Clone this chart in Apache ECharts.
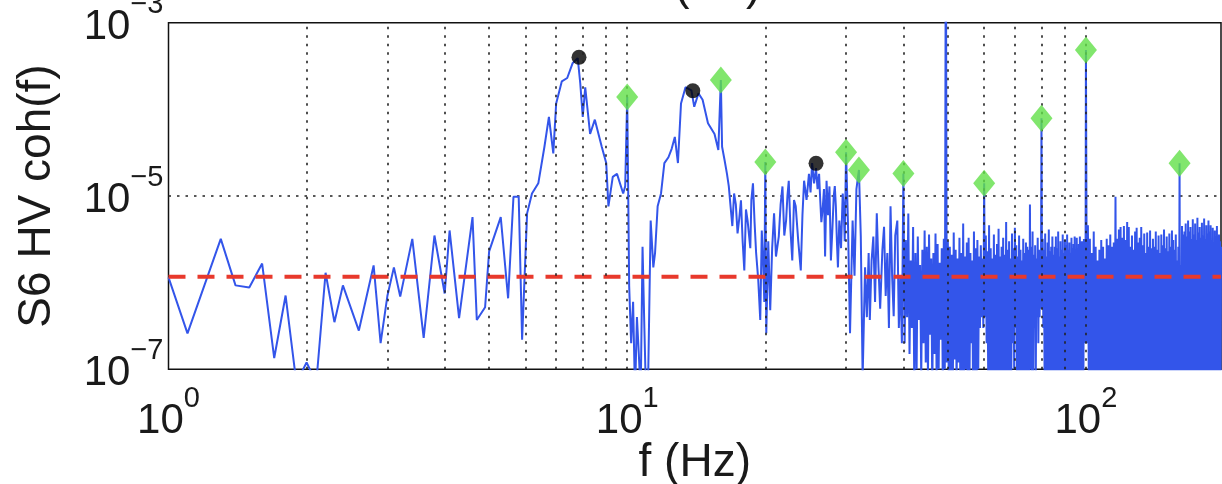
<!DOCTYPE html>
<html><head><meta charset="utf-8">
<script src="https://cdn.jsdelivr.net/npm/echarts@6/dist/echarts.min.js"></script>
<style>html,body{margin:0;padding:0;background:#fff}#c{width:1222px;height:484px}</style>
</head><body><div id="c"></div>
<script>
// ---------- data ----------
// coherence below 40 Hz: [frequency Hz, coherence]
const lowBand = [
 [1.0,1.15e-6],[1.1,2.6e-7],[1.3,3.2e-6],[1.4,9.3e-7],[1.5,8.8e-7],[1.6,1.66e-6],[1.7,1.35e-7],[1.8,7.1e-7],[1.9,7e-8],[2.0,1.2e-7],
 [2.1,7e-8],[2.2,1.3e-6],[2.3,3.5e-7],[2.4,9.3e-7],[2.6,2.8e-7],[2.8,1.58e-6],[2.9,2.0e-7],[3.0,7.0e-7],[3.1,1.5e-6],[3.2,6.9e-7],
 [3.4,3.2e-6],[3.6,2.3e-7],[3.8,3.5e-6],[4.0,7.5e-7],[4.1,4.0e-6],[4.3,3.9e-7],[4.6,5.7e-6],[4.7,3.7e-7],[4.9,5.2e-7],[5.0,2.3e-6],
 [5.3,5.7e-6],[5.5,6.6e-7],[5.65,9.8e-6],[5.8,9.8e-6],[5.9,2.2e-7],[6.05,6.3e-6],[6.2,1.07e-5],[6.4,1.4e-5],[6.6,3.7e-5],[6.75,8.2e-5],
 [6.9,3.1e-5],[7.0,1.17e-4],[7.2,2.1e-4],[7.4,2.3e-4],[7.6,3.4e-4],[7.8,3.9e-4],[7.9,2.0e-4],[8.0,8.2e-5],[8.1,1.8e-4],[8.3,5.2e-5],
 [8.5,7.6e-5],[8.8,3.7e-5],[9.0,2.4e-5],[9.1,7.6e-6],[9.3,1.66e-5],[9.5,1.8e-5],[9.8,1.07e-5],[9.9,1.3e-5],[10.0,1.39e-4],[10.1,9e-7],
 [10.2,2e-7],[10.3,6e-7],[10.4,5e-8],[10.5,4e-7],[10.6,1.5e-7],[10.7,5e-8],[10.8,2.6e-6],[10.9,3e-7],[11.0,4e-8],[11.1,6e-8],
 [11.25,5.2e-6],[11.4,1.5e-6],[11.5,2.2e-6],[11.65,7.6e-6],[11.85,1.07e-5],[12.05,2.4e-5],[12.3,2.8e-5],[12.5,3.5e-5],[12.7,4.8e-5],[12.9,2.4e-5],
 [13.1,1.17e-4],[13.4,1.8e-4],[13.8,1.66e-4],[14.0,1.07e-4],[14.3,1.53e-4],[14.6,1.29e-4],[15.0,6.9e-5],[15.5,5.2e-5],[15.8,3.4e-5],[16.0,2.18e-4],
 [16.1,3.7e-5],[16.3,2.6e-5],[16.5,1.8e-5],[16.65,1.3e-5],[16.8,7.6e-6],[16.95,4.5e-6],[17.1,1.07e-5],[17.25,8e-6],[17.4,3.7e-6],[17.55,5.5e-6],
 [17.7,8.9e-6],[17.85,3e-6],[18.0,1.38e-6],[18.15,7e-6],[18.3,5.2e-6],[18.55,2.5e-6],[18.65,9e-6],[18.8,1.4e-5],[18.95,5e-6],[19.1,2.2e-6],
 [19.3,1.1e-6],[19.5,3.7e-7],[19.65,4e-6],[19.8,1.5e-6],[19.9,6e-7],[20.0,2.47e-5],[20.1,2.6e-7],[20.3,3e-6],[20.5,4.8e-7],[20.7,2.5e-6],
 [20.9,6.3e-6],[21.1,2e-6],[21.4,3.4e-6],[21.6,8e-6],[21.8,1.29e-5],[22.0,3.5e-6],[22.2,5.2e-6],[22.35,1e-5],[22.5,1.5e-5],[22.7,4e-6],
 [22.9,1.8e-6],[23.1,9e-6],[23.3,7.6e-6],[23.6,3e-6],[23.9,1.38e-6],[24.1,6e-6],[24.3,1.5e-5],[24.6,9e-6],[24.9,1.8e-5],[25.1,1.1e-5],
 [25.3,2.4e-5],[25.55,1.4e-5],[25.8,2.1e-5],[26.0,1.2e-5],[26.2,1.8e-5],[26.35,9e-6],[26.5,5e-6],[26.7,7.6e-6],[26.85,1.2e-5],[27.0,2.0e-6],
 [27.2,1.5e-5],[27.4,6e-6],[27.6,1.29e-5],[27.8,1.8e-6],[28.0,4e-6],[28.2,1.0e-5],[28.35,1.3e-5],[28.5,7.6e-6],[28.65,3e-6],[28.8,1.5e-6],
 [29.0,5.2e-6],[29.25,2.5e-6],[29.5,1.07e-5],[29.65,7e-6],[29.8,3e-6],[30.0,3.2e-5],[30.3,4.4e-6],[30.6,2.6e-7],[31.0,5.2e-6],[31.3,1.2e-6],
 [31.6,1.2e-5],[32.0,2.0e-5],[32.3,3.4e-6],[32.6,8e-8],[33.0,1.5e-6],[33.3,4e-7],[33.6,2.2e-6],[33.8,3.7e-7],[34.1,1.8e-6],[34.4,3.4e-6],
 [34.7,6e-7],[35.0,6.3e-6],[35.3,1.5e-6],[35.6,5e-7],[36.0,2.4e-6],[36.3,4.4e-6],[36.6,7e-7],[36.9,2.2e-6],[37.2,3e-7],[37.5,7.6e-6],
 [37.8,1.2e-6],[38.1,4.1e-7],[38.4,3.5e-6],[38.8,5.2e-6],[39.1,3e-7],[39.4,1.2e-6],[39.7,2e-7],[40.0,1.82e-5]
];
// coherence 40.25 - 100 Hz, one value per 0.25 Hz bin
const midStartHz = 40.25;
const midStepHz = 0.25;
const midCoh = [
 2e-7,3.1e-6,4e-7,6.3e-6,1.5e-7,1.8e-6,3e-7,4.4e-6,6e-8,2.2e-6,1e-7,3.4e-6,3.7e-7,1.6e-6,8e-8,2.4e-6,2e-7,4e-6,1.2e-7,2.6e-6,
 8e-8,3.6e-6,2.5e-7,1.9e-6,5e-8,2.2e-6,1.5e-7,3.7e-6,9e-8,2.8e-6,1e-7,1.7e-6,2.2e-7,2.5e-6,6e-8,3.2e-6,1e-7,3e-2,1.2e-7,3e-6,
 5e-8,2.6e-6,9e-8,2.1e-6,4e-8,3.8e-6,1.3e-7,2.4e-6,6e-8,1.9e-6,1.2e-7,3.3e-6,4e-8,2.2e-6,8e-8,4.8e-6,6e-8,2.0e-6,1e-7,2.9e-6,
 3e-8,3.3e-6,7e-8,2.2e-6,2e-7,1.8e-6,5e-8,3.9e-6,9e-8,2.5e-6,4e-8,3.1e-6,1e-7,2.0e-6,3e-7,2.7e-6,4e-7,1.9e-6,3e-7,1.4e-5,
 4e-7,3.5e-6,2e-7,2.3e-6,6e-8,4.6e-6,4e-8,2.5e-6,8e-8,1.9e-6,5e-8,3.6e-6,3e-8,2.1e-6,7e-8,2.8e-6,5e-8,4.2e-6,4e-8,2.0e-6,
 6e-8,2.6e-6,3e-8,3.3e-6,9e-8,2.1e-6,4e-8,5e-6,6e-8,2.4e-6,5e-8,3e-6,3e-8,1.9e-6,8e-8,3.7e-6,2e-7,2.5e-6,1e-7,4.3e-6,
 3e-7,2.7e-6,5e-8,2.0e-6,3e-8,3.5e-6,7e-8,2.4e-6,6e-8,1.8e-6,4e-8,3.2e-6,9e-8,2.2e-6,5e-8,2.9e-6,3e-8,2.6e-6,6e-8,2.4e-6,
 4e-8,8e-6,1e-7,2.6e-6,7e-8,3.9e-6,5e-8,2.1e-6,3e-7,2.7e-6,8e-8,1.9e-6,4e-7,3.3e-6,2e-7,2.4e-6,4e-7,2.2e-6,5e-7,7.9e-5,
 5e-7,3.2e-6,3e-7,2.4e-6,9e-8,3.7e-6,5e-8,2.0e-6,3e-8,2.9e-6,6e-8,4.1e-6,4e-8,2.3e-6,8e-8,2.6e-6,3e-8,3.4e-6,5e-8,2.1e-6,
 6e-8,2.6e-6,4e-8,3.4e-6,8e-8,2.5e-6,3e-8,3.9e-6,5e-8,2.0e-6,7e-8,3e-6,4e-8,2.4e-6,6e-8,3.6e-6,3e-8,2.2e-6,5e-8,3.1e-6,
 4e-8,2.7e-6,7e-8,3.6e-6,3e-8,2.4e-6,6e-8,2.9e-6,5e-8,2.2e-6,3e-8,3.3e-6,8e-8,2.5e-6,4e-8,2.8e-6,6e-8,3.4e-6,3e-8,2.2e-6,
 5e-8,3.3e-6,8e-8,2.5e-6,4e-8,2.8e-6,6e-8,3.4e-6,3e-8,2.3e-6,7e-8,3.0e-6,5e-8,2.6e-6,8e-8,3.2e-6,2e-7,2.4e-6,2e-7,4.84e-4
];
// coherence 100.5 - 197 Hz, one value per 0.5 Hz bin
const highStartHz = 100.5;
const highStepHz = 0.5;
const highCoh = [
 2e-7,4.6e-6,5e-8,3.2e-6,3e-8,2.2e-6,7e-8,3.9e-6,4e-8,2.6e-6,
 6e-8,1.8e-6,3e-8,2.4e-6,5e-8,3.1e-6,8e-8,2.6e-6,4e-8,1.9e-6,
 3e-8,3.2e-6,6e-8,2.7e-6,4e-8,3.6e-6,7e-8,2.6e-6,3e-8,2.9e-6,
 5e-8,9.8e-6,4e-8,3.2e-6,8e-8,4.1e-6,3e-8,4.4e-6,6e-8,3.3e-6,
 4e-8,4.5e-6,7e-8,3.1e-6,3e-8,5e-6,5e-8,4.4e-6,8e-8,2.6e-6,
 3e-8,3.5e-6,6e-8,2.4e-6,4e-8,3.9e-6,7e-8,4.3e-6,3e-8,2.9e-6,
 5e-8,3.3e-6,4e-8,4.4e-6,8e-8,2.7e-6,3e-8,3.7e-6,6e-8,2.2e-6,
 4e-8,3.8e-6,7e-8,2.6e-6,3e-8,4e-6,5e-8,2.5e-6,8e-8,3.2e-6,
 3e-8,2.6e-6,6e-8,3.9e-6,4e-8,2.4e-6,7e-8,3.5e-6,3e-8,2.2e-6,
 5e-8,3.6e-6,4e-8,2.7e-6,8e-8,4.1e-6,3e-8,2.5e-6,6e-8,3.4e-6,
 4e-8,2.3e-6,7e-8,3.7e-6,3e-8,2.6e-6,5e-8,4e-6,8e-8,3.1e-6,
 3e-8,2.4e-6,6e-8,3.6e-6,4e-8,1.8e-6,7e-8,2.6e-6,3e-8,2.38e-5,
 5e-8,1.6e-6,4e-8,4.5e-6,8e-8,3.6e-6,3e-8,3.9e-6,6e-8,4.8e-6,
 4e-8,3.4e-6,7e-8,5.2e-6,3e-8,3.9e-6,5e-8,4.4e-6,8e-8,3.2e-6,
 3e-8,5.4e-6,6e-8,3.6e-6,4e-8,4.8e-6,7e-8,3.1e-6,3e-8,5.6e-6,
 5e-8,3.8e-6,4e-8,4.4e-6,8e-8,3.3e-6,3e-8,4.9e-6,6e-8,3.5e-6,
 4e-8,5.5e-6,7e-8,3.2e-6,3e-8,4.6e-6,5e-8,3.7e-6,8e-8,5.2e-6,
 3e-8,3.9e-6,6e-8,4.6e-6,4e-8,3.1e-6,7e-8,4.3e-6,3e-8,2.8e-6,
 5e-8,4e-6,4e-8,3.2e-6,8e-8,4.5e-6,3e-8,2.7e-6,6e-8,3.6e-6,
 4e-8,3e-6,7e-8,2.6e-6
];
// green diamonds (line harmonics)
const harmonicFreq = [10, 16, 20, 30, 32, 40, 60, 80, 100, 160];
const harmonicCoh  = [1.39e-4, 2.18e-4, 2.47e-5, 3.2e-5, 2.0e-5, 1.82e-5, 1.4e-5, 7.9e-5, 4.84e-4, 2.38e-5];
// black dots (resonance peaks)
const peakFreq = [7.85, 13.9, 25.8];
const peakCoh  = [4.0e-4, 1.64e-4, 2.38e-5];
// red dashed threshold
const thresholdCoh = 1.17e-6;
// axes
const xMin = 1, xMax = 197;
const yMin = 1e-7, yMax = 1e-3;
const xTickValues = [1, 10, 100];
const yTickValues = [1e-7, 1e-5, 1e-3];
const xGridValues = [2,3,4,5,6,7,8,9,10,20,30,40,50,60,70,80,90,100];
const yGridValue = 1e-5;
const xTitle = 'f (Hz)';
const yTitle = 'S6 HV coh(f)';

// ---------- build ----------
const FONT = 'Liberation Sans, Arial, Helvetica, sans-serif';
const lineData = lowBand
  .concat(midCoh.map((v, i) => [midStartHz + i * midStepHz, v]))
  .concat(highCoh.map((v, i) => [highStartHz + i * highStepHz, v]));
const expOf = v => { const e = Math.log10(v); const r = Math.round(e); return Math.abs(e - r) < 1e-6 ? r : null; };
const xExps = xTickValues.map(expOf), yExps = yTickValues.map(expOf);
const fmt = exps => v => { const r = expOf(v); if (r === null || !exps.includes(r)) return ''; return '{b|10}{s|' + (r < 0 ? '\u2212' : '') + Math.abs(r) + '}'; };
const rich = {
  b: {fontSize: 42, fontFamily: FONT, color: '#1a1a1a', lineHeight: 58, verticalAlign: 'bottom'},
  s: {fontSize: 29, fontFamily: FONT, color: '#1a1a1a', lineHeight: 30, verticalAlign: 'top'}
};
const gridLine = {type: [2.5, 6], color: '#222', width: 1.6};

const chart = echarts.init(document.getElementById('c'), null, {renderer: 'canvas'});
chart.setOption({
  animation: false,
  backgroundColor: '#fff',
  grid: {left: 168.5, top: 22.7, width: 1052.5, height: 346.6, containLabel: false, outerBoundsMode: 'none',
         show: true, borderColor: '#111', borderWidth: 1.5, backgroundColor: '#fff'},
  xAxis: {
    type: 'log', logBase: 10, min: xMin, max: xMax,
    axisLine: {show: false}, axisTick: {show: false}, splitLine: {show: false},
    axisLabel: {formatter: fmt(xExps), rich: rich, margin: 15, showMaxLabel: false},
    name: xTitle, nameLocation: 'middle', nameGap: 71, nameMoveOverlap: false,
    nameTextStyle: {fontSize: 46, fontFamily: FONT, color: '#1a1a1a'}
  },
  yAxis: {
    type: 'log', logBase: 10, min: yMin, max: yMax,
    axisLine: {show: false}, axisTick: {show: false}, splitLine: {show: false},
    axisLabel: {formatter: fmt(yExps), rich: rich, margin: 5, padding: [0, 0, 7, 0]},
    name: yTitle, nameLocation: 'middle', nameGap: 108, nameRotate: 90, nameMoveOverlap: false,
    nameTextStyle: {fontSize: 46, fontFamily: FONT, color: '#1a1a1a'}
  },
  graphic: [{type: 'text', silent: true,
    style: {text: xTitle, x: 705, y: 9, font: '46px ' + FONT, fill: '#1a1a1a', textAlign: 'center', textVerticalAlign: 'bottom'}}],
  series: [
    {type: 'line', name: 'xgrid', data: [], z: 1, silent: true,
     markLine: {silent: true, symbol: ['none', 'none'], label: {show: false}, animation: false, lineStyle: gridLine,
       data: xGridValues.map(v => ({xAxis: v}))}},
    {type: 'line', name: 'ygrid', data: [[xMin, yGridValue], [xMax, yGridValue]], z: 1, silent: true,
     showSymbol: false, symbol: 'none', lineStyle: gridLine},
    {type: 'line', name: 'coh', data: lineData, z: 2, showSymbol: false, symbol: 'none', sampling: null,
     lineStyle: {color: '#3355ea', width: 2}, clip: true, silent: true},
    {type: 'line', name: 'threshold', data: [[xMin, thresholdCoh], [xMax, thresholdCoh]], z: 3, showSymbol: false, symbol: 'none',
     lineStyle: {color: '#e8392c', width: 4, type: [17, 12]}, silent: true},
    {type: 'scatter', name: 'peaks', data: peakFreq.map((f, i) => [f, peakCoh[i]]), z: 4,
     symbol: 'circle', symbolSize: 15, itemStyle: {color: '#000'}, silent: true},
    {type: 'scatter', name: 'harmonics', data: harmonicFreq.map((f, i) => [f, harmonicCoh[i]]), z: 5,
     symbol: 'diamond', symbolSize: [22, 27], itemStyle: {color: '#62e049'}, silent: true}
  ]
});
</script>
</body></html>
